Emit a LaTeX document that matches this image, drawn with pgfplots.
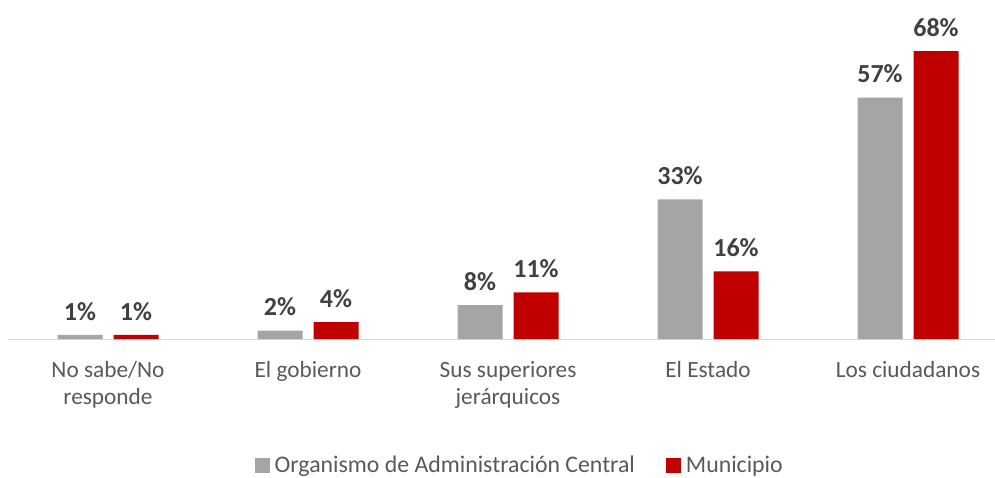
\documentclass[border=0pt]{standalone}
\usepackage{pgfplots}
\pgfplotsset{compat=1.18}
\usepackage{fontspec}
\setmainfont{Carlito}
\definecolor{cgray}{HTML}{A5A5A5}
\definecolor{cred}{HTML}{C00000}
\definecolor{ctext}{HTML}{595959}
\definecolor{clab}{HTML}{404040}
\definecolor{caxis}{HTML}{D9D9D9}
\begin{document}
\begin{tikzpicture}[x=1pt,y=1pt]
\useasboundingbox (0,0) rectangle (995,477);
\begin{axis}[
  at={(8pt,138pt)}, anchor=south west,
  scale only axis, width=987pt, height=329pt,
  xmin=-0.5, xmax=4.435, ymin=0, ymax=77.7,
  axis line style={draw=none},
  major tick length=0pt,
  ybar=11pt, bar width=45pt,
  xtick={0,1,2,3,4},
  xticklabels={{No sabe/No\\responde},{El gobierno},{Sus superiores\\jerárquicos},{El Estado},{Los ciudadanos}},
  xticklabel style={font=\fontsize{23.3}{27}\selectfont, text=ctext, align=center, yshift=-19pt, anchor=north},
  ytick=\empty,
  /pgf/number format/assume math mode=true,
  nodes near coords={\pgfmathprintnumber{\pgfplotspointmeta}\%},
  nodes near coords style={font=\fontsize{26}{30}\selectfont\bfseries, text=clab, yshift=11pt},
  legend style={at={(0.518,-0.383)}, anchor=center, draw=none, fill=none,
    font=\fontsize{23.8}{27}\selectfont, text=ctext, legend columns=2,
    /tikz/every odd column/.append style={column sep=4pt},
    /tikz/every even column/.append style={column sep=30pt},
    nodes={inner xsep=1pt}},
  legend image code/.code={\fill[#1] (0pt,-7.5pt) rectangle (15pt,7.5pt);},
]
\draw[caxis, line width=1pt] (axis cs:-0.5,0) -- (axis cs:4.435,0);
\addplot[fill=cgray, draw=none] coordinates {(0,1) (1,2) (2,8) (3,33) (4,57)};
\addplot[fill=cred, draw=none] coordinates {(0,1) (1,4) (2,11) (3,16) (4,68)};
\legend{Organismo de Administración Central, Municipio}
\end{axis}
\end{tikzpicture}
\end{document}
